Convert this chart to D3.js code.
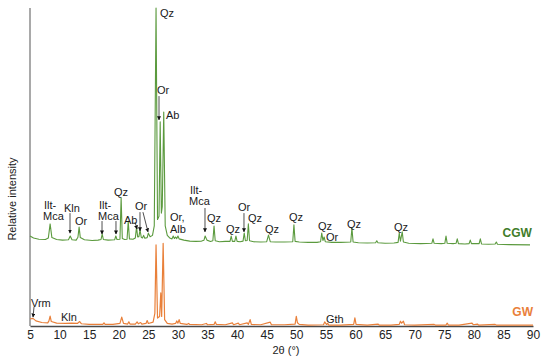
<!DOCTYPE html>
<html>
<head>
<meta charset="utf-8">
<script src="https://cdn.jsdelivr.net/npm/d3@7"></script>
<style>
  body { margin: 0; background: #fff; }
  svg { display: block; font-family: "Liberation Sans", Arial, sans-serif; }
</style>
</head>
<body>
<svg id="chart"></svg>
<script>
// 2theta ticks
const xTicks = [5, 10, 15, 20, 25, 30, 35, 40, 45, 50, 55, 60, 65, 70, 75, 80, 85, 90];

// CGW pattern [2theta, intensity]
const cgw = [[5.0,2.8],[5.6,2.2],[6.5,1.8],[7.6,1.7],[8.1,2.2],[8.4,6.6],[8.7,2.3],[9.5,1.7],[10.5,1.5],[11.5,1.6],[11.8,2.8],[12.1,1.6],[12.8,1.5],[13.1,2.4],[13.3,5.6],[13.5,2.3],[14.2,1.6],[15.5,1.4],[16.5,1.5],[17.0,1.7],[17.2,3.4],[17.4,1.7],[18.2,1.5],[19.3,1.6],[19.5,2.8],[19.7,1.7],[20.2,1.8],[20.4,14.8],[20.6,2.0],[21.0,1.7],[21.4,1.8],[21.6,7.5],[21.8,1.9],[22.4,1.8],[22.8,2.2],[23.0,5.6],[23.2,2.5],[23.4,2.6],[23.6,4.7],[23.8,2.4],[24.0,2.2],[24.2,3.0],[24.4,2.1],[24.8,2.3],[25.0,3.7],[25.3,2.6],[25.7,3.0],[26.0,6],[26.3,74.5],[26.55,8],[26.8,9],[27.0,38.7],[27.2,10],[27.35,12],[27.6,41.8],[27.85,6],[28.2,3.0],[28.6,2.2],[29.0,1.9],[29.2,2.8],[29.4,2.0],[29.6,2.5],[29.8,2.0],[30.0,2.8],[30.2,1.9],[31.0,1.5],[32.0,1.2],[33.0,1.1],[34.0,1.2],[34.4,1.5],[34.6,2.8],[34.9,1.5],[35.5,1.1],[35.9,1.3],[36.1,5.9],[36.3,1.3],[37.0,1.0],[38.0,1.1],[38.8,1.1],[39.0,2.8],[39.2,1.1],[39.6,1.1],[39.8,2.8],[40.0,1.1],[40.5,1.0],[41.0,1.2],[41.2,3.7],[41.4,1.3],[41.7,1.4],[41.9,6.6],[42.1,1.3],[42.8,1.0],[44.0,0.9],[45.0,1.0],[45.3,3.1],[45.6,1.0],[46.5,0.9],[48.0,0.9],[49.4,1.0],[49.6,6.3],[49.8,1.1],[50.5,0.9],[52.0,0.8],[53.5,0.8],[54.1,1.0],[54.3,3.7],[54.5,1.4],[54.7,2.5],[54.9,1.0],[56.0,0.8],[57.5,0.8],[59.2,0.9],[59.4,5.3],[59.6,0.9],[60.5,0.7],[62.0,0.6],[63.4,0.7],[63.6,1.3],[63.8,0.7],[65.0,0.5],[66.5,0.6],[67.2,0.8],[67.4,3.7],[67.6,1.2],[67.9,4.1],[68.1,0.9],[69.0,0.5],[71.0,0.4],[72.9,0.5],[73.1,1.9],[73.3,0.5],[74.5,0.4],[75.1,0.5],[75.3,2.8],[75.5,0.5],[76.5,0.4],[77.0,0.5],[77.2,1.9],[77.4,0.4],[78.5,0.3],[79.2,0.4],[79.4,1.5],[79.6,0.4],[80.9,0.4],[81.1,1.9],[81.3,0.3],[82.5,0.2],[83.6,0.3],[83.8,0.9],[84.0,0.2],[86.0,0.1],[89.5,0.0]];

// GW pattern [2theta, intensity]
const gw = [[5.0,2.2],[5.5,2.4],[6.0,1.6],[7.0,1.1],[8.0,1.0],[8.2,1.6],[8.4,3.1],[8.6,1.4],[9.5,0.9],[11.0,0.8],[12.0,0.9],[13.0,0.8],[13.4,1.4],[13.7,0.7],[15.0,0.5],[17.3,0.5],[17.5,1.0],[17.7,0.5],[19.0,0.5],[20.2,0.8],[20.5,2.8],[20.8,0.8],[21.5,0.6],[21.7,1.3],[21.9,0.6],[22.8,0.6],[23.1,1.3],[23.3,0.7],[23.7,1.1],[23.9,0.6],[24.6,0.8],[24.8,1.7],[25.0,0.8],[25.8,1.2],[26.1,4],[26.3,25.5],[26.55,2.5],[26.9,3],[27.1,10.4],[27.25,3],[27.5,26],[27.75,2],[28.2,0.8],[29.0,0.6],[29.6,0.8],[29.8,1.6],[30.0,0.9],[30.2,2.0],[30.4,0.8],[31.5,0.5],[31.8,0.8],[32.0,0.5],[34.0,0.4],[34.8,0.8],[35.0,0.4],[36.1,0.5],[36.3,1.3],[36.5,0.5],[38.0,0.4],[39.2,1.0],[39.4,0.4],[40.2,0.9],[40.4,0.4],[41.7,1.0],[41.9,0.5],[42.2,2.0],[42.4,0.5],[44.0,0.4],[45.6,1.2],[45.8,0.4],[48.0,0.4],[49.8,0.6],[50.0,3.0],[50.2,1.0],[50.5,0.5],[52.0,0.3],[54.6,0.4],[54.8,1.3],[55.1,0.5],[55.3,0.8],[55.5,0.3],[57.5,0.3],[59.7,0.5],[59.9,2.6],[60.1,0.5],[62.0,0.3],[63.8,0.6],[64.0,0.3],[66.0,0.3],[67.4,0.5],[67.6,1.5],[67.8,0.9],[68.1,1.5],[68.3,0.4],[70.0,0.3],[73.3,0.5],[73.5,0.3],[75.3,0.3],[75.5,0.9],[75.7,0.3],[77.5,0.3],[79.7,0.9],[79.9,0.4],[80.6,0.6],[80.8,0.3],[83.6,0.5],[83.8,0.3],[86,0.3],[90,0.3]];

// phase labels [text, 2theta, intensity] (plot units)
const labels = [
  ["Qz",26.97,97.2],["Or",26.46,73.0],["Ab",27.98,65.1],
  ["Ilt-",7.37,36.8],["Mca",7.2,33.3],["Kln",10.75,35.8],["Or",12.6,31.8],
  ["Ilt-",16.66,36.8],["Mca",16.49,33.3],["Qz",19.19,40.9],["Ab",20.88,32.1],["Or",22.74,36.5],
  ["Or,",28.66,33.0],["Alb",28.66,29.2],["Ilt-",32.04,41.5],["Mca",31.87,38.1],
  ["Qz",34.91,32.7],["Qz",38.12,29.2],["Or",40.15,36.2],["Qz",41.84,32.7],["Qz",44.71,29.2],
  ["Qz",48.76,33.0],["Qz",53.66,30.2],["Or",55.02,26.7],["Qz",58.56,30.8],["Qz",66.51,29.9],
  ["Vrm",5.17,6.0],["Kln",10.24,1.6],["Gth",55.02,0.9]
];

// arrows [2theta1, I1, 2theta2, I2]
const arrows = [
  [26.8,72.3,26.8,64.8],[11.76,35.5,11.76,29.2],[17.17,33.0,17.17,28.9],[19.53,33.0,19.53,28.9],
  [22.74,32.7,23.08,30.5],[23.59,35.8,23.59,29.9],[24.09,35.8,24.94,29.6],
  [34.57,37.1,34.57,29.6],[41.16,35.5,41.16,29.6],[5.68,6.0,5.51,2.8]
];

const width = 550, height = 363;
const cgwOffset = 25.5;

const svg = d3.select("#chart").attr("width", width).attr("height", height);

const x = d3.scaleLinear().domain([5, 90]).range([30, 533]);
const y = d3.scaleLinear().domain([0, 100]).range([326, 8]);

const defs = svg.append("defs");
defs.append("marker")
    .attr("id", "head")
    .attr("viewBox", "0 0 10 10")
    .attr("refX", 9).attr("refY", 5)
    .attr("markerWidth", 5).attr("markerHeight", 5)
    .attr("orient", "auto")
  .append("path")
    .attr("d", "M0,0L10,5L0,10z")
    .attr("fill", "#111");

// axes
svg.append("line")
    .attr("x1", 30).attr("x2", 30)
    .attr("y1", 8).attr("y2", 326)
    .attr("stroke", "#8c8c8c").attr("stroke-width", 1.5);

const xAxis = svg.append("g")
    .attr("transform", "translate(0,326)")
    .call(d3.axisBottom(x).tickValues(xTicks).tickSize(0).tickPadding(4));
xAxis.select(".domain").attr("stroke", "#4a4a4a").attr("stroke-width", 1.3);
xAxis.selectAll("text").attr("font-size", 12).attr("fill", "#222")
    .attr("font-family", "'Liberation Sans', Arial, sans-serif");

svg.append("text")
    .attr("x", 286).attr("y", 354)
    .attr("text-anchor", "middle")
    .attr("font-size", 11).attr("fill", "#222")
    .text("2θ (°)");

svg.append("text")
    .attr("transform", "translate(16,199) rotate(-90)")
    .attr("text-anchor", "middle")
    .attr("font-size", 11).attr("fill", "#222")
    .text("Relative intensity");

// patterns
const line = d3.line().x(d => x(d[0])).y(d => y(d[1]));

svg.append("path")
    .datum(gw)
    .attr("d", line)
    .attr("fill", "none")
    .attr("stroke", "#e9803a")
    .attr("stroke-width", 1.2)
    .attr("stroke-linejoin", "round");

svg.append("path")
    .datum(cgw.map(d => [d[0], d[1] + cgwOffset]))
    .attr("d", line)
    .attr("fill", "none")
    .attr("stroke", "#5b9a3e")
    .attr("stroke-width", 1.1)
    .attr("stroke-linejoin", "round");

// annotations
svg.append("g").selectAll("text")
    .data(labels)
    .enter().append("text")
    .attr("x", d => x(d[1]))
    .attr("y", d => y(d[2]))
    .attr("font-size", 11)
    .attr("fill", "#1a1a1a")
    .text(d => d[0]);

svg.append("g").selectAll("line")
    .data(arrows)
    .enter().append("line")
    .attr("x1", d => x(d[0])).attr("y1", d => y(d[1]))
    .attr("x2", d => x(d[2])).attr("y2", d => y(d[3]))
    .attr("stroke", "#222").attr("stroke-width", 0.8)
    .attr("marker-end", "url(#head)");

svg.append("text")
    .attr("x", x(89.8)).attr("y", y(28.0))
    .attr("text-anchor", "end")
    .attr("font-size", 12).attr("font-weight", "bold")
    .attr("fill", "#3f7d2a")
    .text("CGW");

svg.append("text")
    .attr("x", x(90)).attr("y", y(3.1))
    .attr("text-anchor", "end")
    .attr("font-size", 12).attr("font-weight", "bold")
    .attr("fill", "#e9803a")
    .text("GW");
</script>
</body>
</html>
